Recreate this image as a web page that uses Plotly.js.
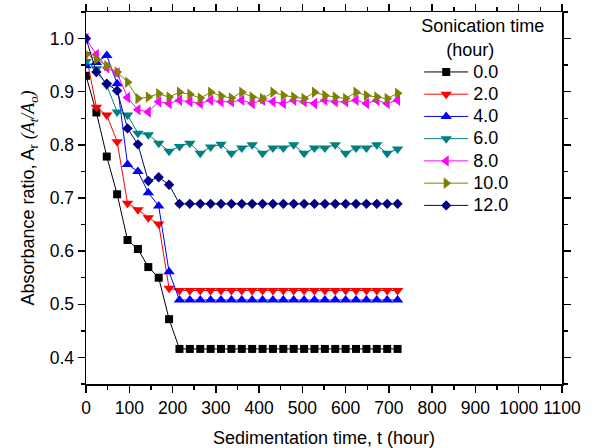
<!DOCTYPE html>
<html>
<head>
<meta charset="utf-8">
<script src="https://cdn.plot.ly/plotly-3.0.1.min.js"></script>
<style>html,body{margin:0;padding:0;background:#fff;}</style>
</head>
<body>
<div id="chart" style="width:597px;height:448px;"></div>
<script>
// Sedimentation time (hour)
const timeH = [0,24,48,72,96,120,144,168,192,216,240,264,288,312,336,360,384,408,432,456,480,504,528,552,576,600,624,648,672,696,720];

// Series names (sonication time, hour)
const seriesNames = ['0.0','2.0','4.0','6.0','8.0','10.0','12.0'];

// Absorbance ratio values
const s0 = [0.930,0.861,0.778,0.707,0.621,0.604,0.570,0.550,0.472,0.416,0.416,0.416,0.416,0.416,0.416,0.416,0.416,0.416,0.416,0.416,0.416,0.416,0.416,0.416,0.416,0.416,0.416,0.416,0.416,0.416,0.416];
const s2 = [0.970,0.871,0.856,0.806,0.690,0.678,0.663,0.651,0.530,0.526,0.526,0.526,0.526,0.526,0.526,0.526,0.526,0.526,0.526,0.526,0.526,0.526,0.526,0.526,0.526,0.526,0.526,0.526,0.526,0.526,0.526];
const s4 = [0.949,0.955,0.968,0.915,0.763,0.750,0.710,0.685,0.561,0.508,0.508,0.508,0.508,0.508,0.508,0.508,0.508,0.508,0.508,0.508,0.508,0.508,0.508,0.508,0.508,0.508,0.508,0.508,0.508,0.508,0.508];
const s6 = [0.957,0.943,0.912,0.862,0.856,0.822,0.819,0.803,0.788,0.797,0.803,0.784,0.796,0.801,0.784,0.794,0.800,0.784,0.794,0.794,0.800,0.784,0.794,0.794,0.800,0.784,0.794,0.794,0.800,0.784,0.792];
const s8 = [1.000,0.970,0.945,0.935,0.889,0.866,0.862,0.881,0.878,0.884,0.881,0.878,0.884,0.881,0.881,0.884,0.878,0.884,0.881,0.878,0.884,0.881,0.878,0.884,0.881,0.881,0.884,0.878,0.884,0.878,0.884];
const s10 = [0.971,0.961,0.949,0.937,0.918,0.887,0.890,0.896,0.890,0.899,0.895,0.888,0.899,0.892,0.888,0.899,0.890,0.887,0.899,0.893,0.890,0.887,0.899,0.893,0.890,0.887,0.899,0.893,0.890,0.887,0.897];
const s12 = [1.000,0.937,0.915,0.902,0.831,0.801,0.732,0.739,0.725,0.689,0.689,0.689,0.689,0.689,0.689,0.689,0.689,0.689,0.689,0.689,0.689,0.689,0.689,0.689,0.689,0.689,0.689,0.689,0.689,0.689,0.689];

const seriesValues = [s0,s2,s4,s6,s8,s10,s12];
const colors = ['#000000','#FF0000','#0000FF','#008080','#FF00FF','#808000','#000080'];
const symbols = ['square','triangle-down','triangle-up','triangle-down','triangle-left','triangle-right','diamond'];
const sizes = [8,10,10,10,10,10,8];

const traces = seriesValues.map((vals, i) => ({
  type: 'scatter',
  mode: 'lines+markers',
  name: '<span style="font-size:18px">' + seriesNames[i] + '</span>',
  x: timeH,
  y: vals,
  line: {color: colors[i], width: 1},
  marker: {color: colors[i], symbol: symbols[i], size: sizes[i], line: {width: 0}}
}));

const NB = '\u00a0';
const layout = {
  width: 597, height: 448,
  margin: {l: 86, r: 35, t: 9, b: 64},
  paper_bgcolor: '#ffffff', plot_bgcolor: '#ffffff',
  font: {family: '"Liberation Sans", Arial, sans-serif', color: '#000000', size: 17},
  showlegend: true,
  legend: {
    x: 0.70, xanchor: 'left', y: 1.008, yanchor: 'top',
    bgcolor: 'rgba(0,0,0,0)', borderwidth: 0,
    font: {size: 14.8}, itemwidth: 44, tracegroupgap: 0,
    title: {text: 'Sonication time<br>' + NB.repeat(5) + '(hour)', side: 'top', font: {size: 18}}
  },
  xaxis: {
    range: [0, 1100], tick0: 0, dtick: 100,
    ticks: 'outside', ticklen: 7, tickwidth: 1.5, tickcolor: '#000',
    showline: true, linewidth: 1.5, linecolor: '#000', mirror: 'allticks',
    showgrid: false, zeroline: false,
    minor: {dtick: 50, ticks: 'outside', ticklen: 4, tickwidth: 1.5, tickcolor: '#000', showgrid: false},
    tickfont: {size: 17.5},
    title: {text: 'Sedimentation time, t (hour)', font: {size: 18}, standoff: 16}
  },
  yaxis: {
    range: [0.35, 1.05], tick0: 0, dtick: 0.1, tickformat: '.1f',
    ticks: 'outside', ticklen: 7, tickwidth: 1.5, tickcolor: '#000',
    showline: true, linewidth: 1.5, linecolor: '#000', mirror: 'allticks',
    showgrid: false, zeroline: false,
    minor: {dtick: 0.05, ticks: 'outside', ticklen: 4, tickwidth: 1.5, tickcolor: '#000', showgrid: false},
    tickfont: {size: 17.5},
    title: {text: 'Absorbance ratio, A<sub>r</sub> <span style="font-family:\'Liberation Serif\'"><i>(A<sub>t</sub>/A<sub>o</sub>)</i></span>', font: {size: 18}, standoff: 10}
  }
};

Plotly.newPlot('chart', traces, layout, {displayModeBar: false, staticPlot: true});
</script>
</body>
</html>
